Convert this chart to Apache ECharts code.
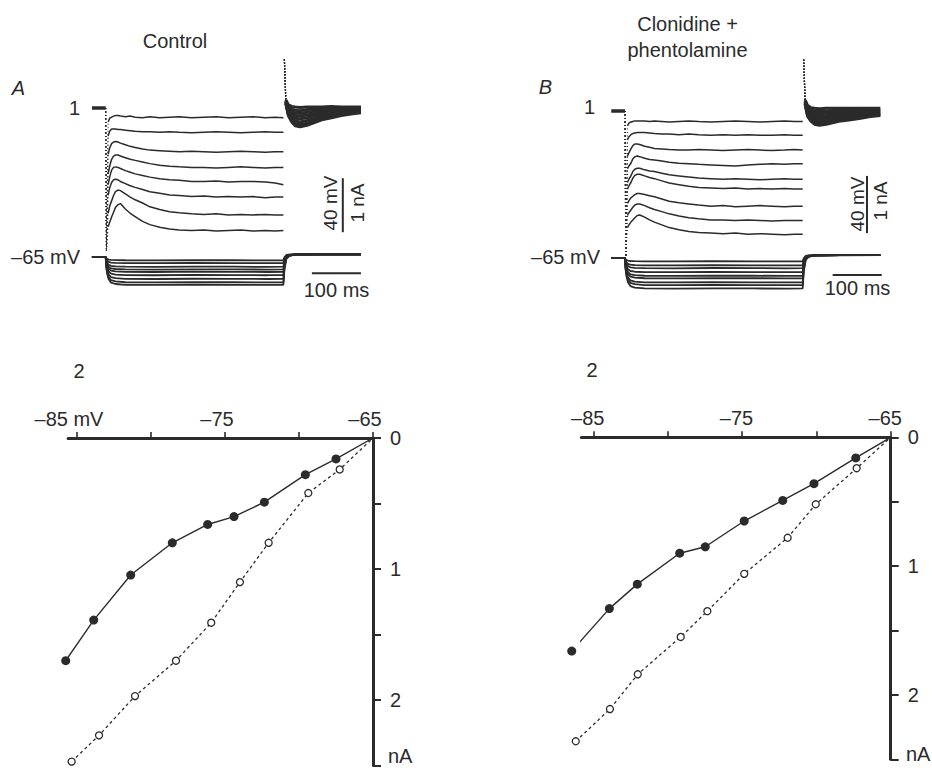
<!DOCTYPE html>
<html>
<head>
<meta charset="utf-8">
<title>Control / Clonidine + phentolamine</title>
<script src="https://cdn.jsdelivr.net/npm/echarts@6/dist/echarts.min.js"></script>
<style>
  html, body { margin: 0; padding: 0; background: #fff; }
  #chart { width: 932px; height: 768px; }
</style>
</head>
<body>
<div id="chart"></div>
<script>
// ---------- time bases (ms from step onset) ----------
const tHold = [-28, 0]
const tStep = [5, 8, 12, 16, 20, 25, 30, 40, 50, 60, 75, 90, 110, 130, 150, 175, 200, 225, 250, 275, 300, 325, 345, 362]
const tTail = [367, 372, 379, 386, 396, 410, 425, 440, 460, 480, 500, 520]
const tVolt = [-28, 0, 1, 3, 6, 11, 20, 40, 100, 180, 260, 330, 362, 364, 368, 374, 387, 440, 520]

// capacitive transients (nA)
const spikeDownA = -2.65
const spikeUpA = 0.9
const spikeDownB = -2.65
const spikeUpB = 0.93

// ---------- panel A, control: membrane currents (nA) ----------
const iStepA = [
  [-0.26, -0.19, -0.17, -0.15, -0.14, -0.14, -0.15, -0.16, -0.15, -0.17, -0.18, -0.16, -0.18, -0.17, -0.16, -0.18, -0.17, -0.16, -0.18, -0.17, -0.16, -0.18, -0.17, -0.18],
  [-0.52, -0.43, -0.39, -0.39, -0.39, -0.40, -0.40, -0.41, -0.42, -0.43, -0.44, -0.44, -0.45, -0.44, -0.45, -0.46, -0.45, -0.44, -0.45, -0.46, -0.45, -0.44, -0.45, -0.45],
  [-0.86, -0.74, -0.66, -0.63, -0.62, -0.63, -0.65, -0.68, -0.71, -0.73, -0.76, -0.78, -0.79, -0.80, -0.81, -0.80, -0.81, -0.82, -0.81, -0.80, -0.81, -0.82, -0.81, -0.81],
  [-1.22, -1.08, -0.95, -0.89, -0.87, -0.87, -0.89, -0.92, -0.95, -0.97, -1.00, -1.03, -1.06, -1.08, -1.09, -1.10, -1.10, -1.11, -1.10, -1.09, -1.10, -1.11, -1.10, -1.10],
  [-1.42, -1.28, -1.15, -1.10, -1.09, -1.10, -1.12, -1.16, -1.19, -1.22, -1.25, -1.28, -1.31, -1.33, -1.34, -1.36, -1.36, -1.35, -1.37, -1.36, -1.36, -1.37, -1.39, -1.42],
  [-1.62, -1.48, -1.38, -1.33, -1.32, -1.33, -1.36, -1.40, -1.44, -1.47, -1.51, -1.55, -1.58, -1.61, -1.62, -1.64, -1.63, -1.65, -1.64, -1.65, -1.64, -1.66, -1.65, -1.65],
  [-1.95, -1.82, -1.72, -1.62, -1.55, -1.52, -1.53, -1.59, -1.65, -1.70, -1.76, -1.83, -1.88, -1.92, -1.94, -1.96, -1.97, -1.96, -1.98, -1.97, -1.98, -1.97, -1.98, -1.98],
  [-2.20, -2.12, -2.02, -1.93, -1.84, -1.79, -1.77, -1.87, -1.95, -2.01, -2.10, -2.16, -2.21, -2.24, -2.26, -2.27, -2.26, -2.28, -2.27, -2.26, -2.28, -2.27, -2.28, -2.27]
]
const iTailA = [
  [0.15, 0.06, 0.03, 0.02, 0.01, 0.02, 0.02, 0.02, 0.03, 0.02, 0.02, 0.02],
  [0.14, 0.02, -0.02, -0.04, -0.05, -0.03, -0.02, -0.01, 0.00, 0.01, 0.01, 0.01],
  [0.13, -0.02, -0.07, -0.09, -0.10, -0.08, -0.06, -0.04, -0.03, -0.02, -0.01, -0.01],
  [0.12, -0.05, -0.11, -0.14, -0.15, -0.13, -0.10, -0.08, -0.06, -0.04, -0.03, -0.02],
  [0.11, -0.08, -0.15, -0.19, -0.20, -0.18, -0.14, -0.11, -0.09, -0.07, -0.05, -0.04],
  [0.10, -0.10, -0.19, -0.24, -0.26, -0.23, -0.19, -0.15, -0.12, -0.09, -0.07, -0.06],
  [0.09, -0.12, -0.23, -0.29, -0.31, -0.28, -0.23, -0.19, -0.15, -0.12, -0.09, -0.08],
  [0.08, -0.14, -0.26, -0.33, -0.35, -0.32, -0.27, -0.22, -0.18, -0.14, -0.11, -0.09]
]
// panel A command voltages (mV)
const vTraceA = [
  [-65, -65, -65.8, -66.4, -66.9, -67.2, -67.3, -67.4, -67.5, -67.3, -67.4, -67.5, -67.4, -65.2, -63.5, -63.2, -63.0, -63.1, -63.0],
  [-65, -65, -66.6, -67.7, -68.6, -69.1, -69.4, -69.5, -69.6, -69.4, -69.5, -69.6, -69.5, -66.3, -64.0, -63.3, -63.1, -63.0, -63.0],
  [-65, -65, -67.5, -69.3, -70.8, -71.6, -72.0, -72.2, -72.3, -72.1, -72.2, -72.3, -72.2, -67.6, -64.4, -63.5, -63.1, -63.0, -63.0],
  [-65, -65, -68.2, -70.5, -72.4, -73.5, -73.9, -74.2, -74.3, -74.1, -74.2, -74.3, -74.2, -68.6, -64.7, -63.6, -63.1, -63.0, -63.0],
  [-65, -65, -68.9, -71.6, -73.8, -75.1, -75.7, -76.0, -76.1, -75.9, -76.0, -76.1, -76.0, -69.5, -64.9, -63.7, -63.1, -63.0, -63.0],
  [-65, -65, -69.7, -73.0, -75.7, -77.3, -78.0, -78.4, -78.5, -78.3, -78.4, -78.5, -78.4, -70.7, -65.3, -63.8, -63.2, -63.0, -63.0],
  [-65, -65, -70.7, -74.7, -78.0, -79.9, -80.7, -81.2, -81.3, -81.1, -81.2, -81.3, -81.2, -72.1, -65.7, -63.9, -63.2, -63.0, -63.0],
  [-65, -65, -71.5, -76.2, -80.0, -82.2, -83.1, -83.7, -83.8, -83.6, -83.7, -83.8, -83.7, -73.4, -66.1, -64.0, -63.2, -63.0, -63.0],
  [-65, -65, -72.2, -77.4, -81.5, -84.0, -85.0, -85.6, -85.7, -85.5, -85.6, -85.7, -85.6, -74.3, -66.3, -64.1, -63.2, -63.0, -63.0]
]

// ---------- panel B, clonidine + phentolamine ----------
const iStepB = [
  [-0.27, -0.22, -0.20, -0.19, -0.18, -0.18, -0.18, -0.18, -0.19, -0.18, -0.19, -0.20, -0.19, -0.18, -0.19, -0.20, -0.19, -0.18, -0.19, -0.20, -0.19, -0.18, -0.19, -0.19],
  [-0.52, -0.47, -0.43, -0.41, -0.40, -0.39, -0.39, -0.39, -0.40, -0.41, -0.42, -0.42, -0.43, -0.42, -0.43, -0.44, -0.43, -0.44, -0.43, -0.44, -0.44, -0.43, -0.44, -0.44],
  [-0.82, -0.76, -0.69, -0.63, -0.60, -0.60, -0.61, -0.64, -0.66, -0.68, -0.69, -0.70, -0.71, -0.71, -0.70, -0.71, -0.72, -0.71, -0.70, -0.71, -0.72, -0.71, -0.70, -0.71],
  [-1.05, -1.00, -0.95, -0.87, -0.83, -0.82, -0.83, -0.86, -0.88, -0.89, -0.91, -0.93, -0.95, -0.96, -0.97, -0.98, -0.99, -1.00, -0.98, -0.97, -0.96, -0.97, -0.96, -0.96],
  [-1.30, -1.24, -1.18, -1.10, -1.06, -1.04, -1.04, -1.07, -1.09, -1.10, -1.13, -1.16, -1.18, -1.20, -1.22, -1.23, -1.24, -1.23, -1.24, -1.25, -1.24, -1.23, -1.24, -1.24],
  [-1.42, -1.36, -1.30, -1.22, -1.17, -1.15, -1.15, -1.18, -1.21, -1.23, -1.27, -1.31, -1.34, -1.37, -1.39, -1.40, -1.41, -1.40, -1.42, -1.41, -1.42, -1.41, -1.42, -1.42],
  [-1.68, -1.63, -1.58, -1.55, -1.52, -1.50, -1.50, -1.52, -1.54, -1.56, -1.60, -1.64, -1.67, -1.69, -1.71, -1.73, -1.72, -1.74, -1.73, -1.72, -1.73, -1.74, -1.73, -1.73],
  [-1.90, -1.85, -1.80, -1.75, -1.71, -1.69, -1.69, -1.72, -1.76, -1.79, -1.83, -1.87, -1.91, -1.94, -1.96, -1.98, -1.98, -1.99, -1.98, -1.99, -2.00, -1.99, -1.99, -1.99],
  [-2.12, -2.07, -2.02, -1.98, -1.94, -1.90, -1.89, -1.93, -1.98, -2.02, -2.07, -2.12, -2.16, -2.19, -2.21, -2.22, -2.23, -2.22, -2.24, -2.23, -2.24, -2.25, -2.24, -2.24]
]
const iTailB = [
  [0.20, 0.10, 0.06, 0.05, 0.04, 0.05, 0.05, 0.05, 0.05, 0.05, 0.05, 0.05],
  [0.19, 0.07, 0.02, 0.00, -0.01, 0.00, 0.01, 0.02, 0.02, 0.03, 0.03, 0.03],
  [0.18, 0.04, -0.02, -0.04, -0.05, -0.04, -0.03, -0.02, -0.01, 0.00, 0.00, 0.01],
  [0.17, 0.01, -0.05, -0.08, -0.09, -0.08, -0.06, -0.05, -0.04, -0.03, -0.02, -0.01],
  [0.16, -0.02, -0.09, -0.12, -0.13, -0.12, -0.10, -0.08, -0.06, -0.05, -0.04, -0.03],
  [0.15, -0.04, -0.12, -0.15, -0.17, -0.15, -0.13, -0.11, -0.09, -0.07, -0.06, -0.04],
  [0.14, -0.06, -0.15, -0.19, -0.21, -0.19, -0.16, -0.14, -0.12, -0.09, -0.08, -0.06],
  [0.13, -0.08, -0.17, -0.22, -0.24, -0.22, -0.19, -0.16, -0.14, -0.11, -0.09, -0.07],
  [0.12, -0.10, -0.19, -0.24, -0.26, -0.24, -0.21, -0.18, -0.16, -0.13, -0.10, -0.08]
]
const vTraceB = [
  [-65, -65, -65.8, -66.4, -66.8, -67.1, -67.2, -67.3, -67.4, -67.2, -67.3, -67.4, -67.3, -65.2, -63.6, -63.2, -63.0, -63.1, -63.0],
  [-65, -65, -66.8, -68.1, -69.1, -69.7, -70.0, -70.1, -70.2, -70.0, -70.1, -70.2, -70.1, -66.6, -64.1, -63.4, -63.1, -63.0, -63.0],
  [-65, -65, -67.5, -69.3, -70.7, -71.5, -71.9, -72.1, -72.2, -72.0, -72.1, -72.2, -72.1, -67.6, -64.4, -63.5, -63.1, -63.0, -63.0],
  [-65, -65, -68.4, -70.9, -72.9, -74.1, -74.6, -74.85, -74.9, -74.8, -74.85, -74.9, -74.85, -68.9, -64.8, -63.6, -63.1, -63.0, -63.0],
  [-65, -65, -69.3, -72.4, -74.9, -76.4, -77.0, -77.4, -77.5, -77.3, -77.4, -77.5, -77.4, -70.2, -65.2, -63.7, -63.2, -63.0, -63.0],
  [-65, -65, -70.0, -73.5, -76.3, -78.0, -78.7, -79.15, -79.2, -79.1, -79.15, -79.2, -79.15, -71.1, -65.4, -63.8, -63.2, -63.0, -63.0],
  [-65, -65, -71.0, -75.2, -78.6, -80.6, -81.5, -82.0, -82.1, -81.9, -82.0, -82.1, -82.0, -72.5, -65.8, -63.9, -63.2, -63.0, -63.0],
  [-65, -65, -71.6, -76.3, -80.1, -82.4, -83.3, -83.9, -84.0, -83.8, -83.9, -84.0, -83.9, -73.5, -66.1, -64.0, -63.2, -63.0, -63.0],
  [-65, -65, -72.5, -77.8, -82.0, -84.6, -85.7, -86.3, -86.4, -86.2, -86.3, -86.4, -86.3, -74.7, -66.4, -64.2, -63.2, -63.0, -63.0]
]

// ---------- I-V relations (mV, nA inward) ----------
const ivFillVA = [-85.76, -83.87, -81.37, -78.56, -76.17, -74.39, -72.34, -69.57, -67.5]
const ivFillIA = [1.70, 1.39, 1.046, 0.80, 0.66, 0.60, 0.49, 0.28, 0.16]
const ivOpenVA = [-85.36, -83.51, -81.08, -78.31, -75.93, -73.99, -72.05, -69.37, -67.25]
const ivOpenIA = [2.47, 2.27, 1.97, 1.70, 1.41, 1.10, 0.80, 0.42, 0.24]
const ivFillVB = [-86.45, -83.92, -82.04, -79.19, -77.47, -74.85, -72.26, -70.16, -67.35]
const ivFillIB = [1.66, 1.33, 1.14, 0.90, 0.85, 0.65, 0.49, 0.36, 0.16]
const ivOpenVB = [-86.18, -83.88, -82.01, -79.12, -77.33, -74.85, -71.93, -70.04, -67.29]
const ivOpenIB = [2.36, 2.11, 1.84, 1.55, 1.35, 1.06, 0.78, 0.52, 0.24]

const xTicksIV = [-85, -80, -75, -70, -65]
const xLabelsIV = [-85, -75, -65]
const yTicksIV = [0, 0.5, 1, 1.5, 2, 2.5]
const yLabelsIV = [0, 1, 2]

// ---------- layout ----------
const INK = '#2b2b2b'
const FONT = '"Liberation Sans", Arial, Helvetica, sans-serif'
const PX_MS = 0.4909
const TOP = 40, BOT = 300

// onset x, t range, holding-current y, px per nA, -65 mV y, px per mV
const panA = { onset: 105.7, tMin: -30, tMax: 520, i0: 108, pxNA: 54, v0: 257, pxMV: 1.35 }
const panB = { onset: 625, tMin: -30, tMax: 525, i0: 111, pxNA: 55, v0: 258, pxMV: 1.43 }

function topGrid(p) {
  return {
    left: p.onset + p.tMin * PX_MS, top: TOP,
    width: (p.tMax - p.tMin) * PX_MS, height: BOT - TOP,
    outerBoundsMode: 'none'
  }
}
function curAxis(p, g) {
  return { gridIndex: g, type: 'value', show: false, min: -(BOT - p.i0) / p.pxNA, max: (p.i0 - TOP) / p.pxNA }
}
function voltAxis(p, g) {
  return { gridIndex: g, type: 'value', show: false, min: -65 - (BOT - p.v0) / p.pxMV, max: -65 + (p.v0 - TOP) / p.pxMV }
}

function pairs(xs, ys) {
  return xs.map((x, i) => [x, ys[i]])
}
function line(xi, yi, data, width, dash) {
  return {
    type: 'line', xAxisIndex: xi, yAxisIndex: yi, data: data,
    symbol: 'none', silent: true, clip: false, animation: false,
    lineStyle: { color: INK, width: width, type: dash || 'solid' }
  }
}

// all traces of one top panel
function traceSeries(xi, yCur, yVolt, iStep, iTail, vTrace, down, up) {
  const out = []
  out.push(line(xi, yCur, pairs(tHold, [0, 0]), 3.5))
  vTrace.forEach(v => out.push(line(xi, yVolt, pairs(tVolt, v), 1.8)))
  iStep.forEach((tr, k) => {
    out.push(line(xi, yCur, [[0, 0], [1.5, down], [tStep[0], tr[0]]], 1, [1, 2.5]))
    out.push(line(xi, yCur, pairs(tStep, tr), 1.5))
    out.push(line(xi, yCur, [[364, up], [tTail[0], iTail[k][0]]], 1.2, [1, 2]))
    out.push(line(xi, yCur, pairs(tTail, iTail[k]), 3))
  })
  return out
}

function ivAxes(g, min, withUnit, pad) {
  const x = {
    gridIndex: g, type: 'value', position: 'top', min: min, max: -65,
    axisLine: { show: true, onZero: false, lineStyle: { color: INK, width: 3 } },
    axisTick: { show: true, inside: false, length: 6, customValues: xTicksIV, lineStyle: { color: INK, width: 1.6 } },
    axisLabel: {
      customValues: xLabelsIV, margin: 9, color: INK, fontSize: 20, fontFamily: FONT, padding: [0, pad, 0, 0],
      formatter: v => (v === -85 && withUnit) ? '\u201385 mV' : '\u2013' + Math.abs(v)
    },
    splitLine: { show: false }
  }
  const y = {
    gridIndex: g, type: 'value', position: 'right', inverse: true, min: 0, max: 2.5,
    axisLine: { show: true, onZero: false, lineStyle: { color: INK, width: 3 } },
    axisTick: { show: true, inside: false, length: 8, customValues: yTicksIV, lineStyle: { color: INK, width: 2 } },
    axisLabel: {
      customValues: yLabelsIV, margin: 17, color: INK, fontSize: 20, fontFamily: FONT,
      formatter: v => String(v)
    },
    splitLine: { show: false }
  }
  return [x, y]
}

function ivSeries(xi, yi, fv, fi, ov, oi) {
  const origin = { value: [-65, 0], symbol: 'none' }
  return [
    {
      type: 'line', xAxisIndex: xi, yAxisIndex: yi, clip: false, animation: false, silent: true,
      data: pairs(ov, oi).concat([origin]),
      symbol: 'circle', symbolSize: 7, showSymbol: true,
      itemStyle: { color: '#fff', borderColor: INK, borderWidth: 1.3 },
      lineStyle: { color: INK, width: 1.3, type: [3, 3] }, z: 3
    },
    {
      type: 'line', xAxisIndex: xi, yAxisIndex: yi, clip: false, animation: false, silent: true,
      data: pairs(fv, fi).concat([origin]),
      symbol: 'circle', symbolSize: 9, showSymbol: true,
      itemStyle: { color: INK },
      lineStyle: { color: INK, width: 1.4 }, z: 4
    }
  ]
}

const ivA = ivAxes(2, -85.6, true, 16)
const ivB = ivAxes(3, -85.8, false, 11)

const series = []
  .concat(traceSeries(0, 0, 1, iStepA, iTailA, vTraceA, spikeDownA, spikeUpA))
  .concat(traceSeries(1, 2, 3, iStepB, iTailB, vTraceB, spikeDownB, spikeUpB))
  .concat(ivSeries(2, 4, ivFillVA, ivFillIA, ivOpenVA, ivOpenIA))
  .concat(ivSeries(3, 5, ivFillVB, ivFillIB, ivOpenVB, ivOpenIB))

// scale bars: 100 ms and 1 nA (= 40 mV)
series.push(line(0, 0, [[420, -3.06], [520, -3.06]], 2))
series.push(line(0, 0, [[483, -1.30], [483, -2.30]], 2))
series.push(line(1, 2, [[423, -2.98], [523, -2.98]], 2))
series.push(line(1, 2, [[493, -1.18], [493, -2.22]], 2))

function txt(x, y, s, opt) {
  opt = opt || {}
  return {
    type: 'text', x: x, y: y, rotation: opt.rot || 0, silent: true,
    style: {
      text: s, fill: INK,
      font: (opt.italic ? 'italic ' : '') + (opt.size || 20) + 'px ' + FONT,
      align: opt.align || 'center', textAlign: opt.align || 'center',
      verticalAlign: 'middle', textVerticalAlign: 'middle'
    }
  }
}

const labels = [
  txt(175, 41, 'Control'),
  txt(687.5, 23.5, 'Clonidine +'),
  txt(687.5, 49.5, 'phentolamine'),
  txt(18.5, 88, 'A', { italic: true }),
  txt(545.5, 87, 'B', { italic: true }),
  txt(80, 108, '1', { align: 'right' }),
  txt(595, 107, '1', { align: 'right' }),
  txt(80, 257, '\u201365 mV', { align: 'right' }),
  txt(600, 257, '\u201365 mV', { align: 'right' }),
  txt(330, 203, '40 mV', { rot: Math.PI / 2, size: 19 }),
  txt(357, 203, '1 nA', { rot: Math.PI / 2, size: 19 }),
  txt(857, 204, '40 mV', { rot: Math.PI / 2, size: 19 }),
  txt(880, 201, '1 nA', { rot: Math.PI / 2, size: 19 }),
  txt(336.5, 290, '100 ms'),
  txt(857.5, 288, '100 ms'),
  txt(79, 371, '2'),
  txt(592, 370, '2'),
  txt(388, 756, 'nA', { align: 'left' }),
  txt(906, 754, 'nA', { align: 'left' })
]

const chart = echarts.init(document.getElementById('chart'), null, { renderer: 'svg' })
chart.setOption({
  backgroundColor: '#ffffff',
  animation: false,
  grid: [
    topGrid(panA),
    topGrid(panB),
    { left: 68.1, top: 438, width: 304.9, height: 327.5, outerBoundsMode: 'none' },
    { left: 581.4, top: 437.3, width: 309.3, height: 322, outerBoundsMode: 'none' }
  ],
  xAxis: [
    { gridIndex: 0, type: 'value', show: false, min: panA.tMin, max: panA.tMax },
    { gridIndex: 1, type: 'value', show: false, min: panB.tMin, max: panB.tMax },
    ivA[0], ivB[0]
  ],
  yAxis: [
    curAxis(panA, 0), voltAxis(panA, 0),
    curAxis(panB, 1), voltAxis(panB, 1),
    ivA[1], ivB[1]
  ],
  series: series,
  graphic: labels
})
</script>
</body>
</html>
